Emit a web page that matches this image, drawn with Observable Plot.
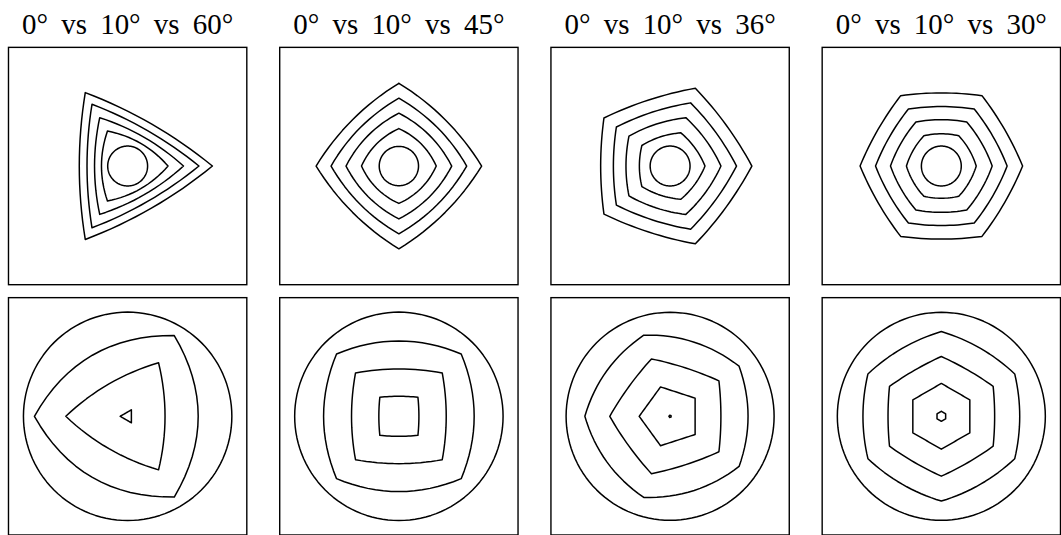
<!DOCTYPE html>
<html><head><meta charset="utf-8">
<script src="https://cdn.jsdelivr.net/npm/d3@7"></script>
<script src="https://cdn.jsdelivr.net/npm/@observablehq/plot@0.6"></script>
<style>html,body{margin:0;padding:0;background:#fff;overflow:hidden;width:1061px;height:535px}
#chart svg text{word-spacing:6px}</style>
</head><body><div id="chart"></div>
<script>
// Panel titles (one per column)
const titles = ["0° vs 10° vs 60°", "0° vs 10° vs 45°", "0° vs 10° vs 36°", "0° vs 10° vs 30°"];
// Number of sides of the contour polygons in each column
const sides = [3, 4, 5, 6];

// Top row: inner circle radius, polygon vertex angle (deg), contour circumradii, edge bulge (sagitta)
const topCircleRadius = [20, 19.7, 20, 20];
const topVertexAngle = [0, 90, 0, 0];
const topRadii = [[40.5, 56, 71.5, 85], [37.5, 53, 68, 83], [35, 51, 66.6, 82], [35, 51, 66, 81.5]];
const topBulge = [[6, 5.2, 5, 6], [5, 6, 6.5, 7], [2.5, 3, 3, 3.3], [2, 2.3, 2.5, 2.7]];

// Bottom row: outer circle radius, polygon vertex angle (deg), contour circumradii, edge bulge (sagitta)
const bottomCircleRadius = [104.5, 104.5, 104.3, 104.3];
const bottomVertexAngle = [180, 45, 180, 90];
const bottomRadii = [[7.5, 62, 93.5], [27, 61.5, 88.4], [1.2, 31, 60.5, 85.5], [5, 33, 60, 85]];
const bottomBulge = [[0, 6.5, 24], [1, 4, 13], [0, 0, 2, 9], [0, 0, 1.5, 5]];

const rows = [];
let idc = 0;
function addPolygon(col, row, n, R, angDeg, s) {
  const id = idc++;
  const verts = d3.range(n).map(k => {
    const a = (angDeg + 360 * k / n) * Math.PI / 180;
    return [R * Math.cos(a), R * Math.sin(a)];
  });
  const steps = 16;
  for (let k = 0; k < n; k++) {
    const A = verts[k], B = verts[(k + 1) % n];
    const dx = B[0] - A[0], dy = B[1] - A[1], len = Math.hypot(dx, dy);
    const nx = dy / len, ny = -dx / len;
    for (let j = 0; j < steps; j++) {
      const t = j / steps, b = 4 * s * t * (1 - t);
      rows.push({col, row, id, x: A[0] + t * dx + nx * b, y: A[1] + t * dy + ny * b});
    }
  }
  rows.push({col, row, id, x: verts[0][0], y: verts[0][1]});
}
function addCircle(col, row, r) {
  const id = idc++;
  for (let j = 0; j <= 120; j++) {
    const a = 2 * Math.PI * j / 120;
    rows.push({col, row, id, x: r * Math.cos(a), y: r * Math.sin(a)});
  }
}
sides.forEach((n, c) => {
  addCircle(c, 0, topCircleRadius[c]);
  topRadii[c].forEach((R, i) => addPolygon(c, 0, n, R, topVertexAngle[c], topBulge[c][i]));
  addCircle(c, 1, bottomCircleRadius[c]);
  bottomRadii[c].forEach((R, i) => addPolygon(c, 1, n, R, bottomVertexAngle[c], bottomBulge[c][i]));
});

const chart = Plot.plot({
  width: 1064, height: 540,
  marginTop: 47, marginLeft: 8, marginRight: 1, marginBottom: 4,
  x: {domain: [-119.5, 119.5], axis: null},
  y: {domain: [-119, 119], axis: null},
  fx: {domain: [0, 1, 2, 3], axis: null, paddingInner: 33 / 272, paddingOuter: 0, round: false},
  fy: {domain: [0, 1], axis: null, paddingInner: 13 / 251, paddingOuter: 0, round: false},
  style: {background: "#fff"},
  marks: [
    Plot.frame({stroke: "#000", strokeWidth: 1.4}),
    Plot.line(rows, {x: "x", y: "y", z: "id", fx: "col", fy: "row", stroke: "#000", strokeWidth: 1.5}),
    Plot.text(titles, {fx: (d, i) => i, fy: () => 0, text: d => d, frameAnchor: "top", lineAnchor: "bottom",
      dy: -13, fontSize: 29, fontFamily: "Liberation Serif", fill: "#000"})
  ]
});
document.getElementById("chart").append(chart);
</script>
</body></html>
